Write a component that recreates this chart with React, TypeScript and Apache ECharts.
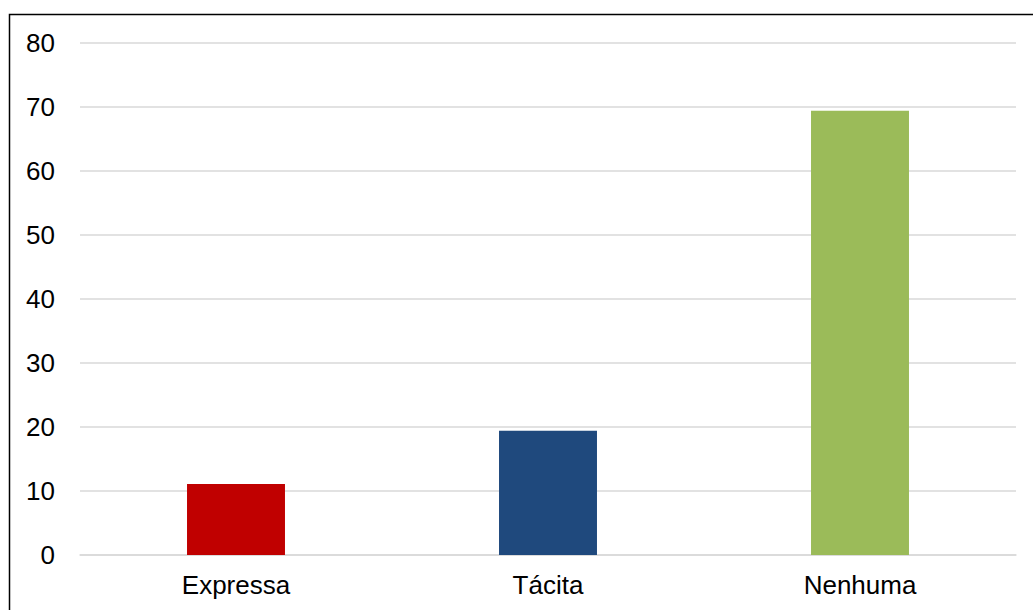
import React, { useEffect, useRef } from "react";
import * as echarts from "echarts";

const categories = ["Expressa", "Tácita", "Nenhuma"];
const values = [11.1, 19.4, 69.4];
const barColors = ["#c00000", "#1f497d", "#9bbb59"];

export default function App() {
  const ref = useRef<HTMLDivElement>(null);

  useEffect(() => {
    if (!ref.current) return;
    const chart = echarts.init(ref.current, undefined, { renderer: "svg" });
    const font = "'Liberation Sans', Arial, sans-serif";
    chart.setOption({
      animation: false,
      backgroundColor: "#ffffff",
      grid: { left: 80, right: 17, top: 43, bottom: 55 },
      xAxis: {
        type: "category",
        data: categories,
        axisLine: { lineStyle: { color: "#d9d9d9", width: 1.5 } },
        axisTick: { show: false },
        axisLabel: { color: "#000", fontSize: 26, fontFamily: font, margin: 17 },
      },
      yAxis: {
        type: "value",
        min: 0,
        max: 80,
        interval: 10,
        axisLine: { show: false },
        axisTick: { show: false },
        axisLabel: { color: "#000", fontSize: 26, fontFamily: font, margin: 25 },
        splitLine: { lineStyle: { color: "#d9d9d9", width: 1.5 } },
      },
      series: [
        {
          type: "bar",
          barWidth: "31.4%",
          data: values.map((v, i) => ({ value: v, itemStyle: { color: barColors[i] } })),
        },
      ],
      graphic: [
        {
          type: "rect",
          shape: { x: 9.5, y: 14.5, width: 1100, height: 700 },
          style: { fill: "none", stroke: "#000", lineWidth: 1.5 },
          silent: true,
        },
      ],
    });
    return () => chart.dispose();
  }, []);

  return (
    <div
      ref={ref}
      style={{ position: "absolute", left: 0, top: 0, width: 1033, height: 610 }}
    />
  );
}
